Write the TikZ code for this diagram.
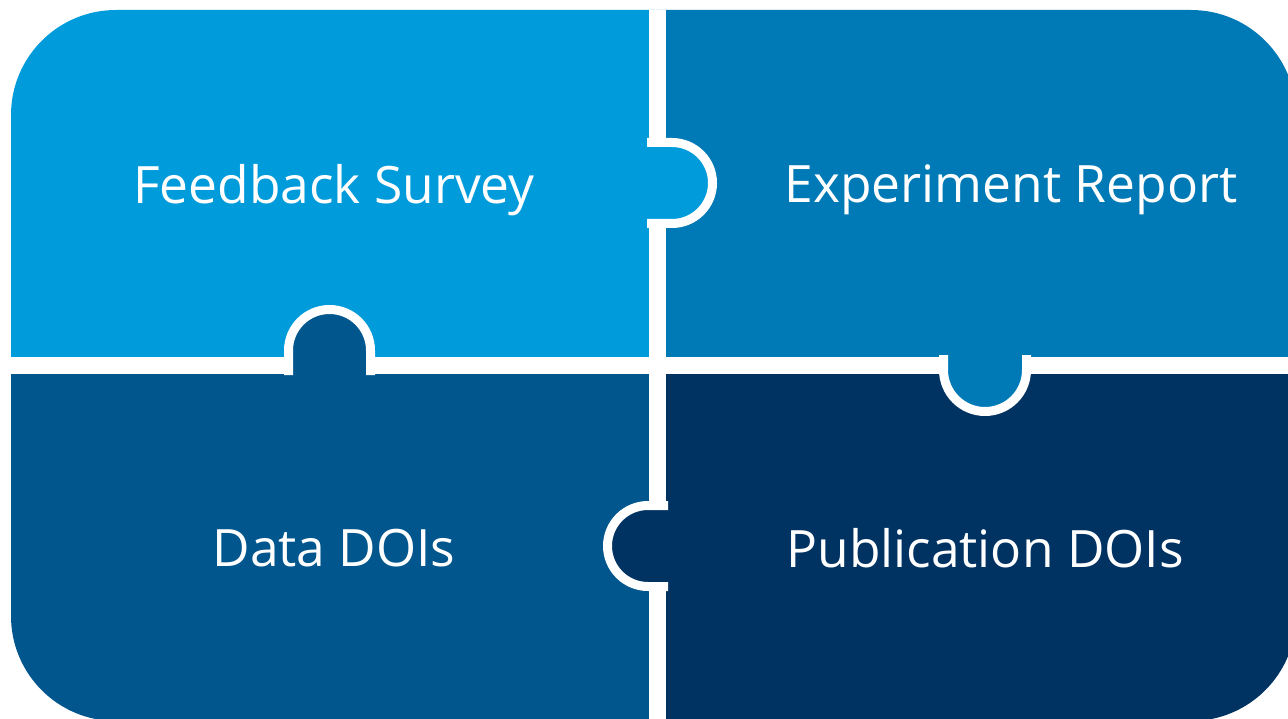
\documentclass[tikz,border=0pt]{standalone}
\usepackage{fontspec}
\setmainfont{Open Sans}
\usepackage{tikz}
\usetikzlibrary{positioning}
\definecolor{pieceA}{RGB}{0,155,219}
\definecolor{pieceB}{RGB}{0,122,182}
\definecolor{pieceC}{RGB}{0,86,141}
\definecolor{pieceD}{RGB}{0,50,98}
\begin{document}
\begin{tikzpicture}[x=1pt,y=-1pt,
  gap/.style={draw=white,line width=17pt},
  tab/.style={draw=white,line width=9pt},
  label/.style={text=white,inner sep=0pt,
    font=\fontsize{51.5}{58}\selectfont}
  ]
  \useasboundingbox (0,0) rectangle (1288,719);
  \begin{scope}
    \clip[rounded corners=105pt] (11,10) rectangle (1296,721);
    \fill[pieceA] (0,0) rectangle (657.5,365);
    \fill[pieceB] (657.5,0) rectangle (1300,365);
    \fill[pieceC] (0,365) rectangle (657.5,730);
    \fill[pieceD] (657.5,365) rectangle (1300,730);
    % cut lines
    \draw[gap] (657.5,0) -- (657.5,730);
    \draw[gap] (0,365) -- (1300,365);
    % tabs
    \filldraw[tab,fill=pieceA] (647,142.5) -- (672,142.5)
      arc[start angle=-90,end angle=90,radius=40.5] -- (647,223.5);
    \filldraw[tab,fill=pieceC] (288.5,375) -- (288.5,350.5)
      arc[start angle=180,end angle=360,radius=41] -- (370.5,375);
    \filldraw[tab,fill=pieceB] (943.5,355) -- (943.5,370)
      arc[start angle=180,end angle=0,radius=41.5] -- (1026.5,355);
    \filldraw[tab,fill=pieceD] (668,505.5) -- (648,505.5)
      arc[start angle=-90,end angle=-270,radius=40.5] -- (668,586.5);
  \end{scope}
  \node[label] (survey) at (334,190) {Feedback Survey};
  \node[label] (report) at (1011,190) {Experiment Report};
  \node[label] (data) at (334,548) {Data DOIs};
  \node[label] (pubs) at (985,548) {Publication DOIs};
\end{tikzpicture}
\end{document}
